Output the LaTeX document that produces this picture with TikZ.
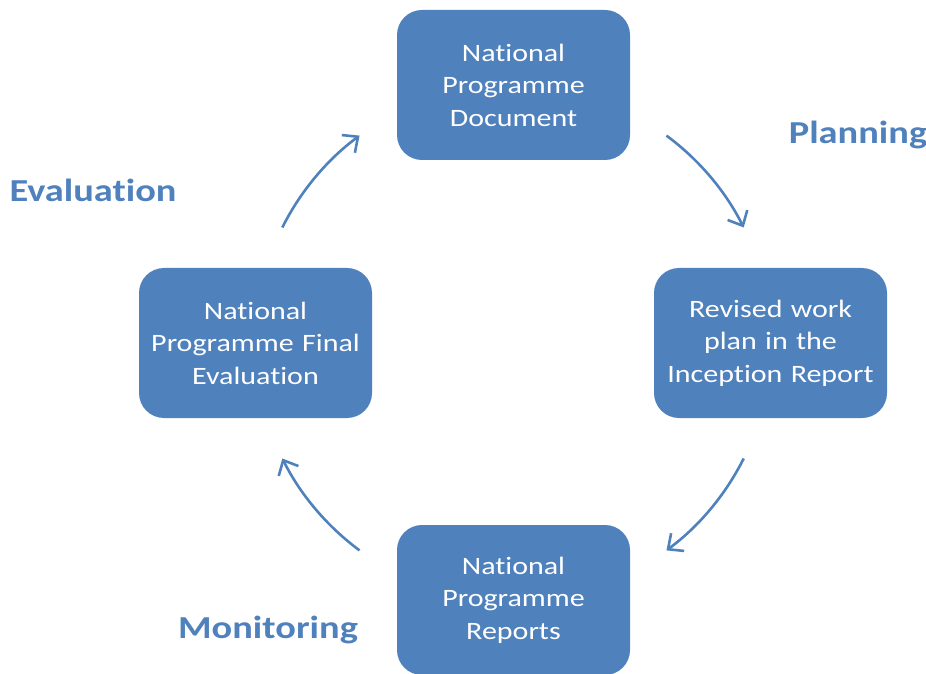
\documentclass[tikz,border=0pt]{standalone}
\usepackage{fontspec}
\setmainfont{Carlito}[FakeStretch=1.2, Ligatures=NoCommon]
\usetikzlibrary{arrows.meta,positioning}
\definecolor{boxblue}{HTML}{4F81BD}
\begin{document}
\begin{tikzpicture}[x=1pt, y=1pt, -, 
                    main/.style = {draw=none, fill=boxblue, text=white, rounded corners=25pt,
                      minimum width=233pt, minimum height=150pt, text width=226pt, align=center,
                      font=\fontsize{25}{32.5}\selectfont},
                    phase/.style = {text=boxblue, font=\fontsize{32}{36}\selectfont\bfseries},
                    cyc/.style = {draw=boxblue, line width=2.6pt, -{Straight Barb[length=12pt,width=22pt,line width=2.6pt]}}]
\useasboundingbox (0,0) rectangle (926,673);
    \node[main] (doc)  at (513.5,588) {National\\Programme\\Document};
\node[main] (plan) at (770.5,330) {Revised work\\plan in the\\Inception Report};
\node[main] (rep)  at (513.5,73)  {National\\Programme\\Reports};
\node[main] (eval) at (255.5,330) {National\\Programme Final\\Evaluation};
\node[phase] (planning)   at (858,538) {Planning};
\node[phase] (evaluation) at (93,483)  {Evaluation};
\node[phase] (monitoring) at (268,43)  {Monitoring};
\coordinate (c) at (513,330);
    \draw[cyc] ([shift={(53.5:258)}]c) arc[start angle=53.5, end angle=26.6, radius=258];
\draw[cyc] ([shift={(-26.6:258)}]c) arc[start angle=-26.6, end angle=-53.5, radius=258];
\draw[cyc] ([shift={(-126.5:258)}]c) arc[start angle=-126.5, end angle=-153.4, radius=258];
\draw[cyc] ([shift={(153.4:258)}]c) arc[start angle=153.4, end angle=126.5, radius=258];
\end{tikzpicture}
\end{document}
